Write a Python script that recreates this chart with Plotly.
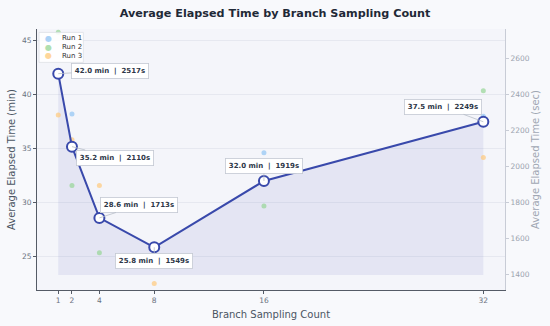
import plotly.graph_objects as go

counts = [1, 2, 4, 8, 16, 32]
avg_min = [41.95, 35.17, 28.55, 25.82, 31.98, 37.48]
avg_sec = [2517, 2110, 1713, 1549, 1919, 2249]
run1 = [42.1, 38.2, 28.8, 25.9, 34.6, 38.0]
run2 = [45.8, 31.55, 25.3, 25.7, 29.65, 40.37]
run3 = [38.1, 35.8, 31.55, 22.45, 31.7, 34.17]
run_names = ["Run 1", "Run 2", "Run 3"]
run_colors = ["#90c4f4", "#95d595", "#ffc97a"]
label_offsets = [(52, -3), (43, 11), (40, -13), (0, 14), (0, -15), (-40, -15)]

FONT = "DejaVu Sans"
base = min(avg_min) * 0.9
yr = [21.85, 46.1]

fig = go.Figure()
fig.add_trace(go.Scatter(x=counts, y=[base] * len(counts), mode="lines",
                         line=dict(width=0), showlegend=False, hoverinfo="skip"))
fig.add_trace(go.Scatter(x=counts, y=avg_min, mode="lines", line=dict(width=0),
                         fill="tonexty", fillcolor="rgba(63,81,181,0.09)",
                         showlegend=False, hoverinfo="skip"))
for name, vals, col in zip(run_names, [run1, run2, run3], run_colors):
    fig.add_trace(go.Scatter(x=counts, y=vals, mode="markers", name=name, showlegend=False,
                             marker=dict(size=5, color=col, opacity=0.7)))
fig.add_trace(go.Scatter(x=counts, y=avg_min, mode="lines+markers", showlegend=False,
                         line=dict(color="#3949AB", width=2),
                         marker=dict(size=10, color="white",
                                     line=dict(color="#3949AB", width=2))))
fig.add_trace(go.Scatter(x=counts, y=avg_sec, yaxis="y2", mode="markers",
                         marker=dict(opacity=0), showlegend=False, hoverinfo="skip"))

for x, m, s, (ax, ay) in zip(counts, avg_min, avg_sec, label_offsets):
    fig.add_annotation(x=x, y=m, text=f"<b>{m:.1f} min  |  {s}s</b>",
                       showarrow=True, arrowhead=0, arrowwidth=0.8, arrowcolor="#b8bec8",
                       ax=ax, ay=ay, font=dict(family=FONT, size=7, color="#2d3748"),
                       bgcolor="white", bordercolor="#c4c9d2", borderwidth=0.8, borderpad=3)

# compact legend (matplotlib-style) built from the run names / colours
fig.add_shape(type="rect", xref="paper", yref="paper", x0=0.0043, x1=0.099, y0=0.872, y1=0.987,
              fillcolor="rgba(255,255,255,0.85)", line=dict(color="#dde0e6", width=0.8))
leg_rows = [0.964, 0.930, 0.897]
for name, col, yy in zip(run_names, run_colors, leg_rows):
    fig.add_annotation(xref="paper", yref="paper", x=0.0256, y=yy, text="●", showarrow=False,
                       xanchor="center", yanchor="middle", opacity=0.75,
                       font=dict(family=FONT, size=8, color=col))
    fig.add_annotation(xref="paper", yref="paper", x=0.049, y=yy, text=name, showarrow=False,
                       xanchor="left", yanchor="middle",
                       font=dict(family=FONT, size=7, color="#333333"))

fig.update_layout(
    width=550, height=326,
    margin=dict(l=37, r=45, t=29, b=36, autoexpand=False),
    paper_bgcolor="#f8f9fc", plot_bgcolor="#f4f5fa",
    font=dict(family=FONT, color="#6b7280"),
    title=dict(text="<b>Average Elapsed Time by Branch Sampling Count</b>",
               x=0.5, xanchor="center", y=0.96, yanchor="middle",
               font=dict(family=FONT, size=11.2, color="#1f2937")),
    xaxis=dict(range=[-0.55, 33.58], tickvals=counts, ticktext=[str(c) for c in counts],
               showgrid=False, zeroline=False, showline=True, linecolor="#555b66", linewidth=1,
               ticks="outside", ticklen=3, tickcolor="#555b66", automargin=False,
               tickfont=dict(size=7.5, color="#6b7280"),
               title=dict(text="Branch Sampling Count", standoff=6,
                          font=dict(size=10, color="#4b5563"))),
    yaxis=dict(range=yr, tickvals=[25, 30, 35, 40, 45], showgrid=True, gridcolor="#e6e8f0",
               gridwidth=1, zeroline=False, showline=True, linecolor="#555b66", linewidth=1,
               ticks="outside", ticklen=3, tickcolor="#555b66", automargin=False,
               tickfont=dict(size=7.5, color="#6b7280"),
               title=dict(text="Average Elapsed Time (min)", standoff=4,
                          font=dict(size=10, color="#4b5563"))),
    yaxis2=dict(range=[yr[0] * 60, yr[1] * 60], overlaying="y", side="right",
                tickvals=[1400, 1600, 1800, 2000, 2200, 2400, 2600], showgrid=False,
                zeroline=False, showline=True, linecolor="#c8ccd6", linewidth=1,
                ticks="outside", ticklen=3, tickcolor="#c8ccd6", automargin=False,
                tickfont=dict(size=7.5, color="#9ca3af"),
                title=dict(text="Average Elapsed Time (sec)", standoff=2,
                           font=dict(size=10, color="#a0a7b3"))),
    showlegend=False,
)

fig.write_html("out.html", config={"displayModeBar": False},
               post_script="document.body.style.margin='0';")
